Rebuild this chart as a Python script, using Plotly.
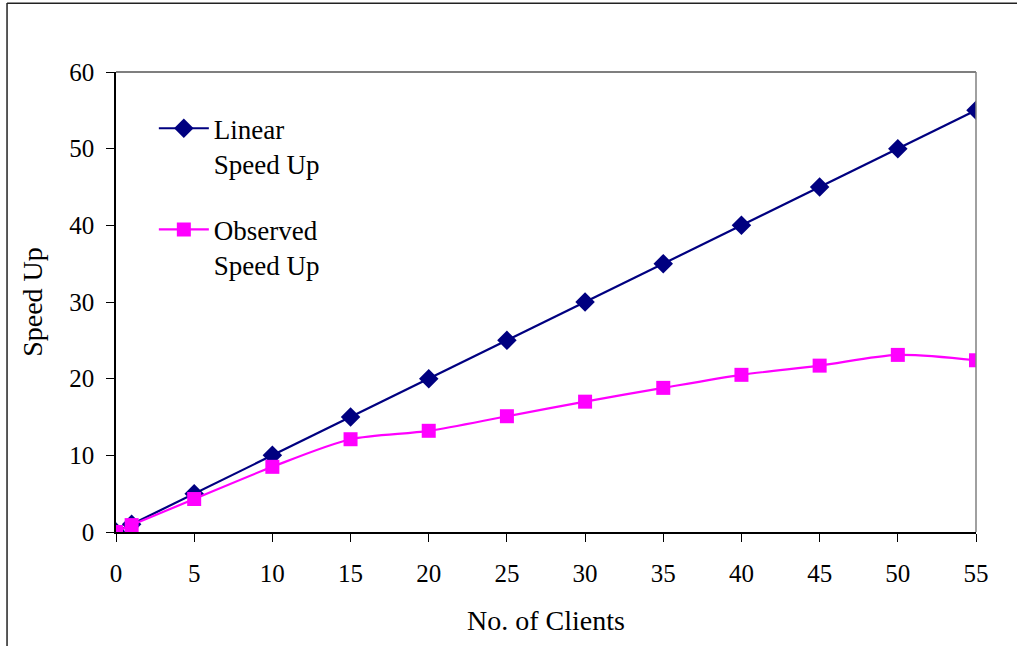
import plotly.graph_objects as go

clients = [0, 1, 5, 10, 15, 20, 25, 30, 35, 40, 45, 50, 55]
linear_speedup = [0, 1, 5, 10, 15, 20, 25, 30, 35, 40, 45, 50, 55]
observed_speedup = [0, 0.9, 4.3, 8.5, 12.1, 13.2, 15.1, 17.0, 18.8, 20.5, 21.7, 23.1, 22.4]
x_ticks = [0, 5, 10, 15, 20, 25, 30, 35, 40, 45, 50, 55]
y_ticks = [0, 10, 20, 30, 40, 50, 60]

FONT = "Liberation Serif"

fig = go.Figure()
fig.add_trace(go.Scatter(
    x=clients, y=linear_speedup, mode="lines+markers",
    name="Linear<br>Speed Up", legendgroup="a",
    line=dict(color="#000080", width=2.2),
    marker=dict(symbol="diamond", size=15, color="#000080"),
))
fig.add_trace(go.Scatter(
    x=clients, y=observed_speedup, mode="lines+markers",
    name="Observed<br>Speed Up", legendgroup="b",
    line=dict(color="#FF00FF", width=2.2, shape="spline", smoothing=0.8),
    marker=dict(symbol="square", size=14, color="#FF00FF"),
))

fig.update_layout(
    width=1017, height=646,
    margin=dict(l=116, r=41, t=72, b=114),
    paper_bgcolor="white", plot_bgcolor="white",
    font=dict(family=FONT, size=25, color="black"),
    showlegend=True,
    legend=dict(
        x=0.044, y=0.93, xanchor="left", yanchor="top",
        bgcolor="rgba(0,0,0,0)", font=dict(family=FONT, size=27),
        tracegroupgap=28, valign="top", itemwidth=50,
    ),
    xaxis=dict(
        range=[0, 55], tickvals=x_ticks, showgrid=False, zeroline=False,
        showline=True, linecolor="black", linewidth=1.5,
        ticks="outside", ticklen=8, tickcolor="black",
        tickfont=dict(family=FONT, size=25), ticklabelstandoff=10,
        title=dict(text="No. of Clients", font=dict(family=FONT, size=28), standoff=25),
    ),
    yaxis=dict(
        range=[0, 60], tickvals=y_ticks, showgrid=False, zeroline=False,
        showline=True, linecolor="black", linewidth=1.5,
        ticks="outside", ticklen=8, tickcolor="black",
        tickfont=dict(family=FONT, size=25), ticklabelstandoff=7,
        title=dict(text="Speed Up", font=dict(family=FONT, size=28), standoff=18),
    ),
    shapes=[
        dict(type="line", xref="paper", yref="paper", x0=0, x1=1, y0=1, y1=1,
             line=dict(color="black", width=1.2)),
        dict(type="line", xref="paper", yref="paper", x0=1, x1=1, y0=0, y1=1,
             line=dict(color="#808080", width=1.5)),
        dict(type="line", xref="paper", yref="paper", x0=-0.1267, x1=-0.1267, y0=-0.3, y1=1.15,
             line=dict(color="#222222", width=1.5)),
        dict(type="line", xref="paper", yref="paper", x0=-0.1267, x1=1.1, y0=1.1495, y1=1.1495,
             line=dict(color="#222222", width=1.5)),
    ],
)

fig.write_html("out.html", config={"displayModeBar": False},
               post_script="document.body.style.margin='0';")
